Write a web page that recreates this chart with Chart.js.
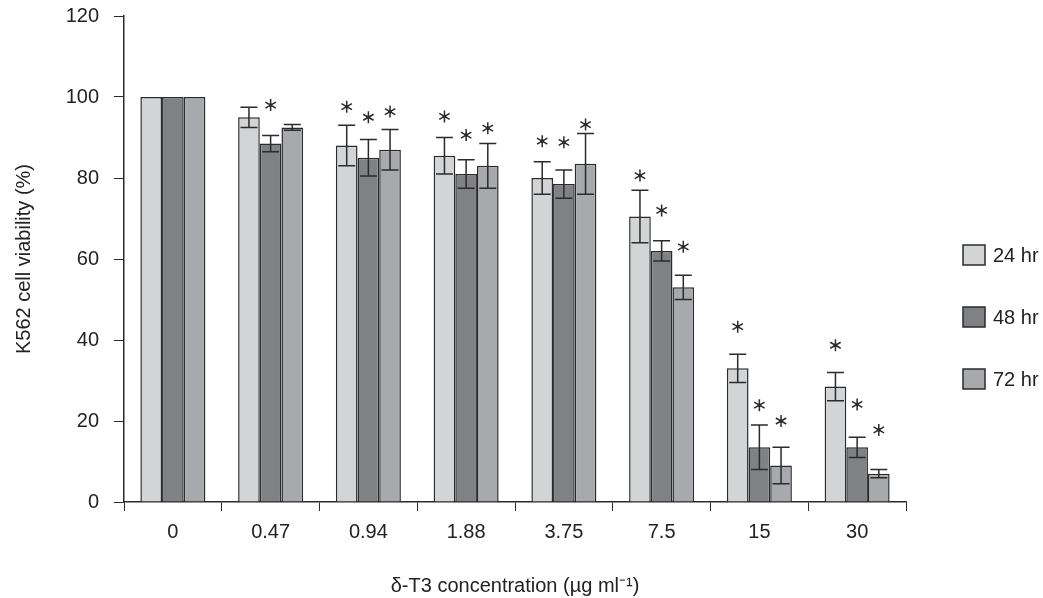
<!DOCTYPE html>
<html>
<head>
<meta charset="utf-8">
<script src="https://cdn.jsdelivr.net/npm/chart.js@4"></script>
<style>
  html, body { margin: 0; padding: 0; background: #fff; }
  #wrap { width: 1043px; height: 598px; }
</style>
</head>
<body>
<div id="wrap"><canvas id="myChart" width="1043" height="598"></canvas></div>
<script>
// data
const concentrations = ['0', '0.47', '0.94', '1.88', '3.75', '7.5', '15', '30'];
const seriesNames = ['24 hr', '48 hr', '72 hr'];
const viability24 = [100, 95, 88, 85.5, 80, 70.5, 33, 28.5];
const viability48 = [100, 88.5, 85, 81, 78.5, 62, 13.5, 13.5];
const viability72 = [100, 92.5, 87, 83, 83.5, 53, 9, 7];
const sd24 = [0, 2.5, 5, 4.5, 4, 6.5, 3.5, 3.5];
const sd48 = [0, 2, 4.5, 3.5, 3.5, 2.5, 5.5, 2.5];
const sd72 = [0, 0.7, 5, 5.5, 7.5, 3, 4.5, 1];
// y value where the significance star sits (null = no star)
const star24 = [null, null, 97.6, 95.2, 89.1, 80.6, 43.3, 38.7];
const star48 = [null, 98, 95, 90.6, 88.8, 72, 23.9, 24.1];
const star72 = [null, null, 96.4, 92.3, 93.2, 63, 20, 17.8];
const yTicks = [0, 20, 40, 60, 80, 100, 120];

const colors = ['#d3d4d6', '#808184', '#a8a9ac'];
const edge = '#2b2b2b';
const font = "'Liberation Sans', Arial, sans-serif";

const errorBars = {
    id: 'errorBars',
    afterDatasetsDraw(chart) {
        const ctx = chart.ctx;
        const y = chart.scales.y;
        ctx.save();
        ctx.strokeStyle = edge;
        ctx.lineWidth = 1.5;
        chart.data.datasets.forEach((ds, i) => {
            const meta = chart.getDatasetMeta(i);
            meta.data.forEach((bar, j) => {
                const e = ds.sd[j];
                if (e) {
                    const top = y.getPixelForValue(ds.data[j] + e);
                    const bot = y.getPixelForValue(ds.data[j] - e);
                    const half = 8.5;
                    ctx.beginPath();
                    ctx.moveTo(bar.x, top); ctx.lineTo(bar.x, bot);
                    ctx.moveTo(bar.x - half, top); ctx.lineTo(bar.x + half, top);
                    ctx.moveTo(bar.x - half, bot); ctx.lineTo(bar.x + half, bot);
                    ctx.stroke();
                }
                const s = ds.star[j];
                if (s != null) {
                    const sy = y.getPixelForValue(s);
                    const r = 6;
                    ctx.beginPath();
                    for (let k = 0; k < 3; k++) {
                        const a = Math.PI / 2 + k * Math.PI / 3;
                        ctx.moveTo(bar.x - r * Math.cos(a), sy - r * Math.sin(a));
                        ctx.lineTo(bar.x + r * Math.cos(a), sy + r * Math.sin(a));
                    }
                    ctx.stroke();
                    ctx.fillStyle = edge;
                    ctx.beginPath();
                    ctx.arc(bar.x, sy, 1.8, 0, Math.PI * 2);
                    ctx.fill();
                }
            });
        });
        // legend on the right
        ctx.font = '20px ' + font;
        ctx.textBaseline = 'middle';
        seriesNames.forEach((name, i) => {
            const cy = 255 + i * 62;
            ctx.fillStyle = colors[i];
            ctx.fillRect(963, cy - 10, 22, 20);
            ctx.strokeRect(963, cy - 10, 22, 20);
            ctx.fillStyle = '#222';
            ctx.fillText(name, 993, cy + 1);
        });
        ctx.restore();
    }
};

const ctx = document.getElementById('myChart').getContext('2d');
new Chart(ctx, {
    type: 'bar',
    data: {
        labels: concentrations,
        datasets: [
            { label: seriesNames[0], data: viability24, sd: sd24, star: star24 },
            { label: seriesNames[1], data: viability48, sd: sd48, star: star48 },
            { label: seriesNames[2], data: viability72, sd: sd72, star: star72 }
        ].map((d, i) => Object.assign(d, {
            backgroundColor: colors[i],
            borderColor: edge,
            borderWidth: 1.5,
            borderSkipped: 'bottom',
            categoryPercentage: 0.665,
            barPercentage: 1
        }))
    },
    options: {
        responsive: false,
        animation: false,
        layout: { padding: { top: 16, right: 137, left: 0, bottom: 0 } },
        plugins: { legend: { display: false }, tooltip: { enabled: false } },
        scales: {
            x: {
                grid: { drawOnChartArea: false, tickLength: 9, color: edge, offset: true },
                border: { color: edge, width: 1.5 },
                ticks: { color: '#222', font: { family: font, size: 20 }, padding: 9 },
                title: { display: true, text: 'δ-T3 concentration (µg ml⁻¹)', color: '#222', font: { family: font, size: 20 }, padding: { top: 20, bottom: 0 } },
                afterFit(scale) { scale.height = 96; }
            },
            y: {
                min: 0, max: 120,
                afterBuildTicks(scale) { scale.ticks = yTicks.map(v => ({ value: v })); },
                grid: { drawOnChartArea: false, tickLength: 10, color: edge },
                border: { color: edge, width: 1.5 },
                ticks: { color: '#222', font: { family: font, size: 20 }, padding: 15 },
                title: { display: true, text: 'K562 cell viability (%)', color: '#222', font: { family: font, size: 20 }, padding: { top: 12, bottom: 8 } },
                afterFit(scale) { scale.width = 124; scale.paddingTop = 0; scale.paddingBottom = 0; }
            }
        }
    },
    plugins: [errorBars]
});
</script>
</body>
</html>
